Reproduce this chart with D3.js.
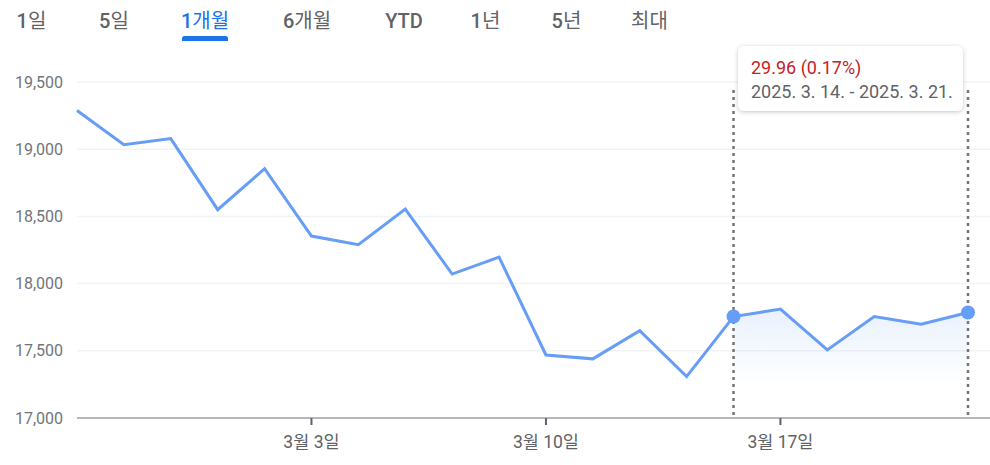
<!DOCTYPE html>
<html>
<head>
<meta charset="utf-8">
<script src="https://cdn.jsdelivr.net/npm/d3@7"></script>
<style>
  html, body { margin: 0; padding: 0; background: #fff; }
  svg { display: block; font-family: Roboto, "Noto Sans CJK KR", sans-serif; }
</style>
</head>
<body>
<svg id="chart" width="990" height="465"></svg>
<script>
// ---- data ----
const dates = ["2025-02-24","2025-02-25","2025-02-26","2025-02-27","2025-02-28",
               "2025-03-03","2025-03-04","2025-03-05","2025-03-06","2025-03-07",
               "2025-03-10","2025-03-11","2025-03-12","2025-03-13","2025-03-14",
               "2025-03-17","2025-03-18","2025-03-19","2025-03-20","2025-03-21"];
const values = [19288, 19034, 19079, 18550, 18855,
                18354, 18289, 18555, 18071, 18197,
                17469, 17440, 17650, 17308, 17755,
                17810, 17507, 17755, 17698, 17785];
const yTicks = [17000, 17500, 18000, 18500, 19000, 19500];
const xTickIndex = [5, 10, 15];
const xTickLabels = ["3월 3일", "3월 10일", "3월 17일"];
const tabs = ["1일", "5일", "1개월", "6개월", "YTD", "1년", "5년", "최대"];
const activeTab = "1개월";
const rangeStart = 14, rangeEnd = 19;
const tipValue = "29.96 (0.17%)";
const tipDates = "2025. 3. 14. - 2025. 3. 21.";

const svg = d3.select("#chart");
const x = d3.scaleLinear().domain([0, values.length - 1]).range([77, 968]);
const y = d3.scaleLinear().domain([17000, 19500]).range([418, 82]);

// tabs
const tabX = [31.5, 114, 205, 307, 404, 485.5, 566.5, 649.5];
const tabG = svg.append("g");
tabs.forEach((t, i) => {
  const active = t === activeTab;
  const txt = tabG.append("text")
    .attr("x", tabX[i]).attr("y", 28)
    .attr("text-anchor", "middle")
    .attr("font-size", 20)
    .attr("fill", active ? "#1a73e8" : "#5f6368");
  // split runs: latin/digits medium, hangul regular
  const runs = t.match(/[A-Za-z0-9]+|[^A-Za-z0-9]+/g);
  runs.forEach(r => {
    txt.append("tspan").attr("font-weight", /[A-Za-z0-9]/.test(r) ? 500 : 400).text(r);
  });
  if (active) {
    tabG.append("rect").attr("x", tabX[i] - 23).attr("y", 36).attr("width", 46).attr("height", 5)
      .attr("rx", 2.5).attr("fill", "#1a73e8");
    tabG.append("rect").attr("x", tabX[i] - 23).attr("y", 39).attr("width", 46).attr("height", 2)
      .attr("fill", "#1a73e8");
  }
});

// gridlines
const grid = svg.append("g");
grid.selectAll("line").data(yTicks.filter(d => d !== 17000)).join("line")
  .attr("x1", 77).attr("x2", 990)
  .attr("y1", d => y(d)).attr("y2", d => y(d))
  .attr("stroke", "#f1f3f4").attr("stroke-width", 1.5);

// y labels
svg.append("g").selectAll("text").data(yTicks).join("text")
  .attr("x", 63).attr("y", d => y(d)).attr("dy", "0.35em")
  .attr("text-anchor", "end").attr("font-size", 16).attr("fill", "#70757a")
  .text(d => d3.format(",")(d));

// area under selected range
const defs = svg.append("defs");
const grad = defs.append("linearGradient").attr("id", "ag").attr("x1", 0).attr("y1", 0).attr("x2", 0).attr("y2", 1);
grad.append("stop").attr("offset", "0%").attr("stop-color", "#669df6").attr("stop-opacity", 0.14);
grad.append("stop").attr("offset", "100%").attr("stop-color", "#669df6").attr("stop-opacity", 0);
const sel = d3.range(rangeStart, rangeEnd + 1);
const area = d3.area().x(i => x(i)).y0(y(17250)).y1(i => y(values[i]));
svg.append("path").datum(sel).attr("d", area).attr("fill", "url(#ag)");

// x axis baseline
svg.append("line").attr("x1", 77).attr("x2", 990).attr("y1", y(17000)).attr("y2", y(17000))
  .attr("stroke", "#9aa0a6").attr("stroke-width", 1.5);

// x ticks
const xt = svg.append("g");
xt.selectAll("line").data(xTickIndex).join("line")
  .attr("x1", d => x(d)).attr("x2", d => x(d))
  .attr("y1", y(17000)).attr("y2", y(17000) + 7)
  .attr("stroke", "#5f6368").attr("stroke-width", 2);
xt.selectAll("text").data(xTickIndex).join("text")
  .attr("x", d => x(d)).attr("y", 448)
  .attr("text-anchor", "middle").attr("font-size", 17.5).attr("fill", "#5f6368")
  .text((d, i) => xTickLabels[i]);

// dotted range lines
[rangeStart, rangeEnd].forEach(i => {
  svg.append("line").attr("x1", x(i)).attr("x2", x(i)).attr("y1", 90).attr("y2", y(17000))
    .attr("stroke", "#757575").attr("stroke-width", 2.5).attr("stroke-dasharray", "3,4");
});

// line
const line = d3.line().x((d, i) => x(i)).y(d => y(d));
svg.append("path").datum(values).attr("d", line)
  .attr("fill", "none").attr("stroke", "#669df6").attr("stroke-width", 3)
  .attr("stroke-linejoin", "miter");

// dots
svg.selectAll("circle.pt").data([rangeStart, rangeEnd]).join("circle")
  .attr("cx", i => x(i)).attr("cy", i => y(values[i])).attr("r", 7)
  .attr("fill", "#669df6");

// tooltip
const filt = defs.append("filter").attr("id", "sh").attr("x", "-20%").attr("y", "-30%").attr("width", "140%").attr("height", "170%");
filt.append("feDropShadow").attr("dx", 0).attr("dy", 1).attr("stdDeviation", 2).attr("flood-color", "#3c4043").attr("flood-opacity", 0.3);
const tip = svg.append("g");
tip.append("rect").attr("x", 738).attr("y", 46).attr("width", 225).attr("height", 65).attr("rx", 6)
  .attr("fill", "#fff").attr("filter", "url(#sh)");
tip.append("text").attr("x", 751).attr("y", 74).attr("font-size", 18).attr("fill", "#c5221f").text(tipValue);
tip.append("text").attr("x", 751).attr("y", 98).attr("font-size", 18).attr("fill", "#5f6368").text(tipDates);
</script>
</body>
</html>
